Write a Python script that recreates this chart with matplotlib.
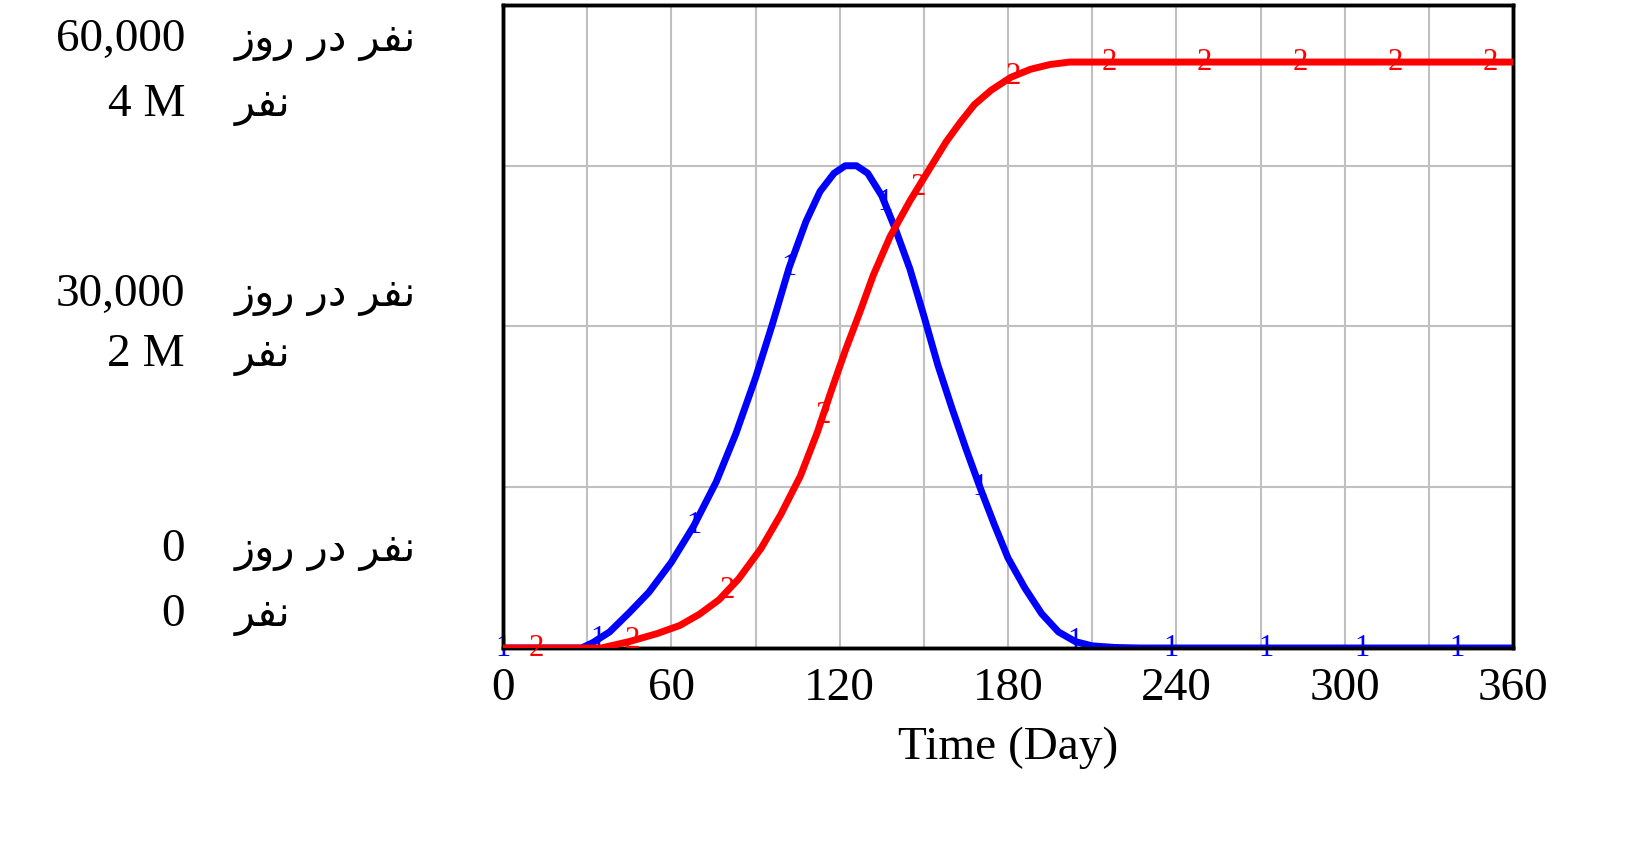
import matplotlib.pyplot as plt
import numpy as np

# blue: persons/day
blue_days = [0, 28, 32, 38, 45, 52, 60, 68, 76, 83, 90, 96, 102, 108, 113, 118, 122, 126, 130, 135, 140, 145, 150, 155, 160, 165, 170, 175, 180, 186, 192, 198, 204, 210, 218, 227, 360]
blue_vals = [0, 0, 500, 1500, 3300, 5200, 8000, 11400, 15500, 20000, 25200, 30200, 35500, 39800, 42600, 44300, 45000, 45000, 44300, 42200, 39000, 35400, 31000, 26400, 22400, 18600, 15000, 11600, 8400, 5600, 3200, 1500, 600, 200, 50, 0, 0]
# red: persons (cumulative)
red_days = [0, 35, 45, 55, 63, 70, 77, 84, 92, 99, 106, 112, 117, 122, 127, 132, 138, 145, 152, 158, 163, 168, 174, 181, 188, 195, 202, 360]
red_vals = [0, 0, 0.04e6, 0.09e6, 0.14e6, 0.21e6, 0.30e6, 0.43e6, 0.62e6, 0.83e6, 1.07e6, 1.34e6, 1.60e6, 1.85e6, 2.08e6, 2.32e6, 2.56e6, 2.78e6, 2.98e6, 3.15e6, 3.27e6, 3.38e6, 3.47e6, 3.55e6, 3.60e6, 3.63e6, 3.645e6, 3.645e6]

blue_marks = np.arange(0, 361, 34)
red_marks = np.arange(12, 361, 34)
x_ticks = [0, 60, 120, 180, 240, 300, 360]

W, H = 1651, 841
fig = plt.figure(figsize=(W / 100, H / 100), dpi=100)
ax = fig.add_axes([503 / W, 1 - 648 / H, (1513 - 503) / W, (648 - 5) / H])
ax2 = ax.twinx()

ax.plot(blue_days, blue_vals, color="#0000FF", lw=5, zorder=3, solid_joinstyle="round")
ax2.plot(red_days, red_vals, color="#FF0000", lw=5, zorder=3, solid_joinstyle="round")
for d in blue_marks:
    ax.text(d, np.interp(d, blue_days, blue_vals), "1", color="#0000FF",
            fontsize=22, family="Liberation Serif", ha="center", va="center", zorder=4)
for d in red_marks:
    ax2.text(d, np.interp(d, red_days, red_vals), "2", color="#FF0000",
             fontsize=22, family="Liberation Serif", ha="center", va="center", zorder=4)

ax.set_xlim(0, 360)
ax.set_ylim(0, 60000)
ax2.set_ylim(0, 4e6)
ax.set_xticks(x_ticks)
ax.set_xticklabels([str(t) for t in x_ticks], family="Liberation Serif", fontsize=34)
ax.set_xticks(np.arange(0, 361, 30), minor=True)
ax.set_yticks(np.linspace(0, 60000, 5))
ax.set_yticklabels([])
ax2.set_yticks([])
ax.tick_params(length=0, pad=14, which="both")
ax.grid(True, which="both", color="#C0C0C0", lw=1.5)
ax.set_axisbelow(True)
for a in (ax, ax2):
    for s in a.spines.values():
        s.set_linewidth(2.5)
        s.set_color("black")
ax.set_xlabel("Time (Day)", family="Liberation Serif", fontsize=34, labelpad=12)

per_day = "\uFEAF\uFEED\uFEAD \uFEAD\uFEA9 \uFEAE\uFED4\uFEE7"
persons = "\uFEAE\uFED4\uFEE7"
rows = [(40, "60,000", per_day), (105, "4 M", persons),
        (295, "30,000", per_day), (355, "2 M", persons),
        (550, "0", per_day), (615, "0", persons)]
for y, num, lab in rows:
    fig.text(185 / W, 1 - y / H, num, ha="right", va="center",
             family="Liberation Serif", fontsize=34)
    fig.text(235 / W, 1 - y / H, lab, ha="left", va="center",
             family=["DejaVu Sans"], fontsize=30)

fig.savefig("out.png", dpi=100)
